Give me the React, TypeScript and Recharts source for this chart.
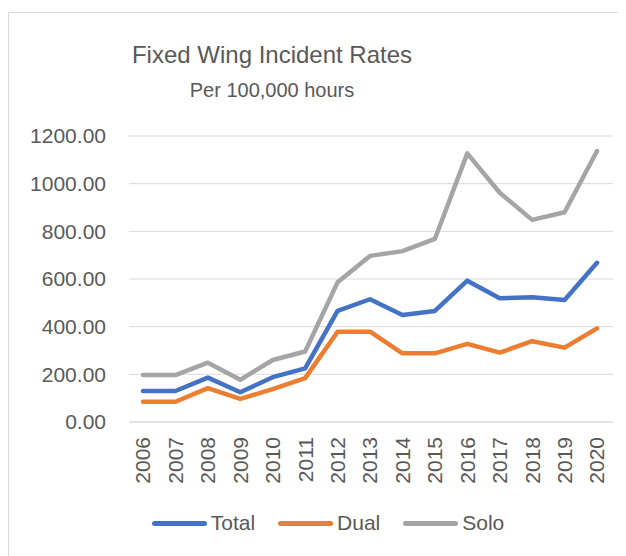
import { LineChart, Line, XAxis, YAxis, CartesianGrid, Legend } from 'recharts';

const years = ['2006', '2007', '2008', '2009', '2010', '2011', '2012', '2013', '2014', '2015', '2016', '2017', '2018', '2019', '2020'];
const total = [130, 130, 186, 125, 188, 225, 466, 515, 449, 466, 593, 519, 523, 512, 668];
const dual = [85, 85, 142, 97, 138, 184, 379, 379, 288, 288, 328, 291, 339, 312, 393];
const solo = [197, 197, 249, 177, 260, 296, 586, 697, 717, 768, 1127, 962, 848, 880, 1137];
const yTicks = [0, 200, 400, 600, 800, 1000, 1200];

const series = [
    { key: 'Total', color: '#4472C4', values: total },
    { key: 'Dual', color: '#ED7D31', values: dual },
    { key: 'Solo', color: '#A5A5A5', values: solo },
];

const data = years.map((year, i) => ({
    year,
    Total: total[i],
    Dual: dual[i],
    Solo: solo[i],
}));

const FONT = '"Liberation Sans", Arial, sans-serif';
const TEXT = '#595959';

function YearTick({ x, y, payload }: any) {
    return (
        <g transform={`translate(${x},${y})`}>
            <text transform="rotate(-90)" textAnchor="end" dy="0.35em" fontSize={21} fill={TEXT} fontFamily={FONT}>
                {payload.value}
            </text>
        </g>
    );
}

function LegendContent() {
    return (
        <div style={{ display: 'flex', justifyContent: 'center', alignItems: 'center', height: 30, fontFamily: FONT }}>
            {series.map((s, i) => (
                <div key={s.key} style={{ display: 'flex', alignItems: 'center', marginLeft: i === 0 ? 0 : 23 }}>
                    <div style={{ width: 55, height: 5, borderRadius: 3, background: s.color, marginRight: 4 }} />
                    <span style={{ fontSize: 21, color: TEXT }}>{s.key}</span>
                </div>
            ))}
        </div>
    );
}

export default function App() {
    return (
        <div
            style={{
                position: 'relative',
                marginTop: 4,
                width: 617,
                height: 543,
                borderTop: '1px solid #D9D9D9',
                borderLeft: '1px solid #D9D9D9',
                background: '#fff',
            }}
        >
            <LineChart
                width={617}
                height={543}
                data={data}
                margin={{ top: 123, right: 13, left: 0, bottom: 18 }}
            >
                <CartesianGrid vertical={false} stroke="#D9D9D9" strokeWidth={1} />
                <XAxis
                    dataKey="year"
                    height={86}
                    interval={0}
                    padding={{ left: 14, right: 16 }}
                    tickSize={0}
                    tickMargin={15}
                    tickLine={false}
                    axisLine={{ stroke: '#D9D9D9' }}
                    tick={<YearTick />}
                />
                <YAxis
                    width={120}
                    domain={[0, 1200]}
                    ticks={yTicks}
                    tickSize={0}
                    tickMargin={23}
                    axisLine={false}
                    tickLine={false}
                    tickFormatter={(v: number) => v.toFixed(2)}
                    tick={{ fontSize: 21, fill: TEXT, fontFamily: FONT }}
                />
                <Legend
                    verticalAlign="bottom"
                    height={30}
                    wrapperStyle={{ left: 26, width: 586 }}
                    content={<LegendContent />}
                />
                {series.map((s) => (
                    <Line
                        key={s.key}
                        type="linear"
                        dataKey={s.key}
                        stroke={s.color}
                        strokeWidth={4.5}
                        strokeLinecap="round"
                        strokeLinejoin="round"
                        dot={false}
                        activeDot={false}
                        isAnimationActive={false}
                    />
                ))}
            </LineChart>
            <svg width={617} height={110} style={{ position: 'absolute', left: 0, top: 0, pointerEvents: 'none' }}>
                <text x={263} y={50} textAnchor="middle" fontSize={24} fill={TEXT} fontFamily={FONT}>
                    Fixed Wing Incident Rates
                </text>
                <text x={263} y={84} textAnchor="middle" fontSize={20} fill={TEXT} fontFamily={FONT}>
                    Per 100,000 hours
                </text>
            </svg>
        </div>
    );
}
